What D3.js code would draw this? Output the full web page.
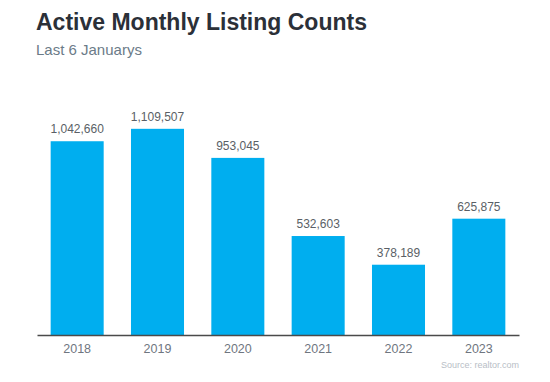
<!DOCTYPE html>
<html>
<head>
<meta charset="utf-8">
<script src="https://cdn.jsdelivr.net/npm/d3@7"></script>
<style>
  body { margin: 0; background: #fff; }
  svg { display: block; font-family: "Liberation Sans", Arial, sans-serif; }
</style>
</head>
<body>
<div id="chart"></div>
<script>
// datos del gráfico
const years  = ['2018', '2019', '2020', '2021', '2022', '2023'];
const counts = [1042660, 1109507, 953045, 532603, 378189, 625875];

const COLORS = {
  bar   : '#00aeef',
  title : '#2b3038',
  sub   : '#6b7b88',
  label : '#5a5f66',
  tick  : '#6f7680',
  axis  : '#4a4a4a',
  source: '#b8bec6'
};

const W = 550, H = 382;
const svg = d3.select('#chart').append('svg')
  .attr('width', W).attr('height', H);

// titulo y subtitulo
svg.append('text')
  .attr('x', 36).attr('y', 30)
  .attr('font-size', 23).attr('font-weight', 'bold')
  .attr('fill', COLORS.title)
  .text('Active Monthly Listing Counts');

svg.append('text')
  .attr('x', 36).attr('y', 55)
  .attr('font-size', 15)
  .attr('fill', COLORS.sub)
  .text('Last 6 Januarys');

// escalas
const x = d3.scaleBand()
  .domain(years)
  .range([37, 519])
  .paddingInner(0.34)
  .paddingOuter(0.17);

const y = d3.scaleLinear()
  .domain([0, 1200000])
  .range([335, 112]);

const data = years.map((yr, i) => ({year: yr, value: counts[i]}));

// barras
svg.selectAll('.bar')
  .data(data)
  .join('rect')
    .attr('class', 'bar')
    .attr('x', d => x(d.year))
    .attr('y', d => y(d.value))
    .attr('width', x.bandwidth())
    .attr('height', d => y(0) - y(d.value))
    .attr('fill', COLORS.bar);

// etiquetas de valores
svg.selectAll('.val')
  .data(data)
  .join('text')
    .attr('class', 'val')
    .attr('x', d => x(d.year) + x.bandwidth() / 2)
    .attr('y', d => y(d.value) - 8)
    .attr('text-anchor', 'middle')
    .attr('font-size', 12)
    .attr('fill', COLORS.label)
    .text(d => d3.format(',')(d.value));

// eje x
const axis = svg.append('g')
  .attr('transform', `translate(0,${y(0)})`)
  .call(d3.axisBottom(x).tickSize(0).tickPadding(9));

axis.select('.domain')
  .attr('stroke', COLORS.axis)
  .attr('stroke-width', 1.5);

axis.selectAll('text')
  .attr('font-size', 12.5)
  .attr('fill', COLORS.tick)
  .attr('font-family', '"Liberation Sans", Arial, sans-serif');

// fuente
svg.append('text')
  .attr('x', 519).attr('y', 368)
  .attr('text-anchor', 'end')
  .attr('font-size', 9)
  .attr('fill', COLORS.source)
  .text('Source: realtor.com');
</script>
</body>
</html>
